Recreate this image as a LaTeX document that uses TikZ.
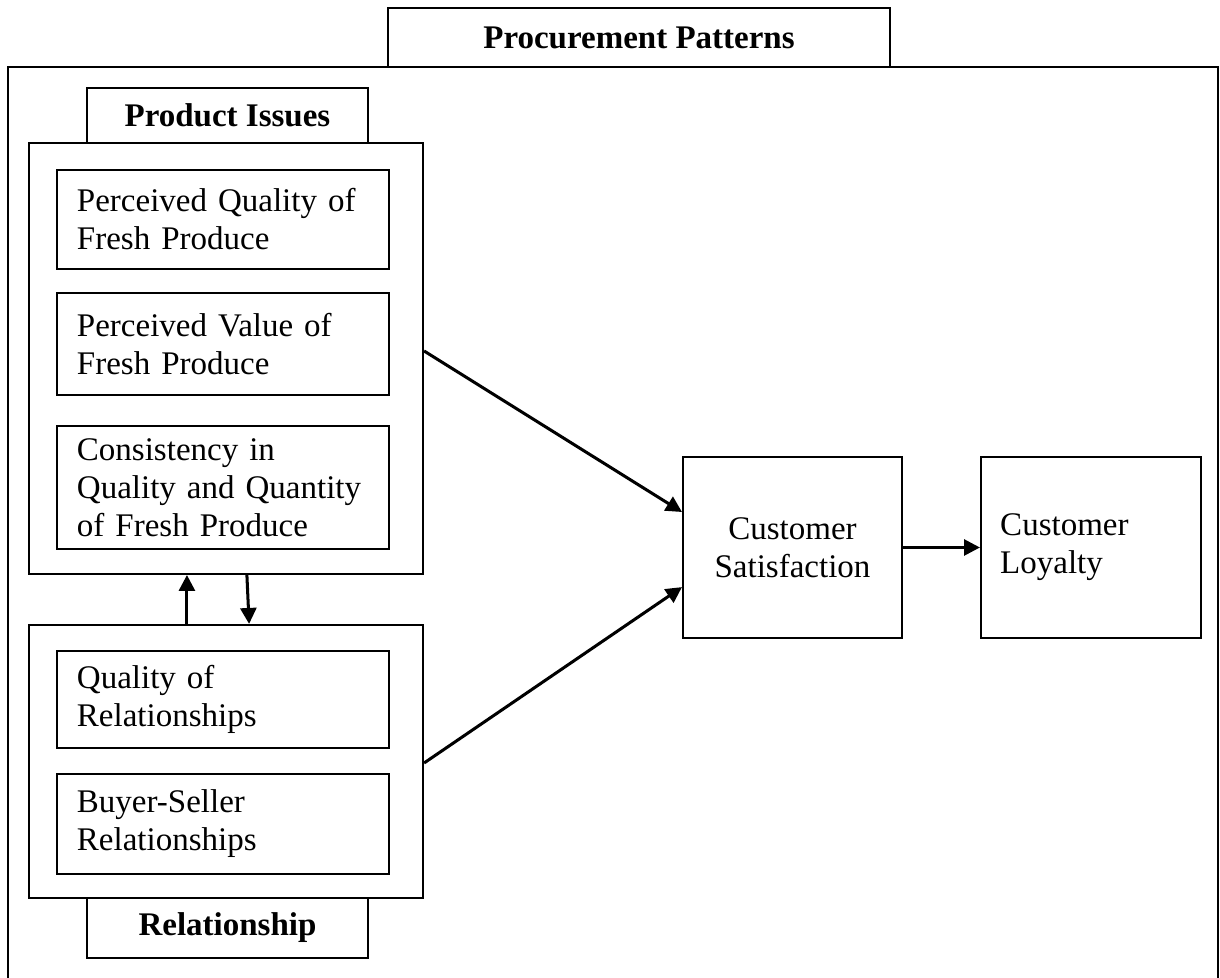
\documentclass[tikz,border=0pt]{standalone}
\usepackage{fontspec}
\setmainfont{Liberation Serif}
\usetikzlibrary{arrows.meta}
\begin{document}
\begin{tikzpicture}[x=0.3636pt,y=-0.3636pt,
  every node/.style={font=\fontsize{12}{13.8}\selectfont},
  frame/.style={draw, line width=0.75pt},
  box/.style={frame, rectangle, inner sep=0pt},
  leftbox/.style={box, align=left, text width=106.2pt, inner xsep=7.27pt, inner ysep=0pt},
  headbox/.style={box, font=\fontsize{12}{13.8}\selectfont\bfseries},
  arr/.style={line width=1.1pt, -{Triangle[length=5.8pt,width=5.8pt]}}]
\useasboundingbox (0,0) rectangle (1220,978);
% outer frame
\draw[line width=0.75pt] (8,990) -- (8,67) -- (1218,67) -- (1218,990);
\node[headbox, minimum width=182.5pt, minimum height=21.45pt] (proc) at (639,37.5) {Procurement Patterns};
% product issues
\node[headbox, minimum width=102.2pt, minimum height=20pt] (pitab) at (227.5,115.5) {Product Issues};
\node[box, minimum width=143.3pt, minimum height=156.7pt] (pi) at (226,358.5) {};
\node[leftbox, minimum height=36pt] (b1) at (223,219.5) {Perceived Quality of\\Fresh Produce};
\node[leftbox, minimum height=37.1pt] (b2) at (223,344) {Perceived Value of\\Fresh Produce};
\node[leftbox, minimum height=44.7pt] (b3) at (223,487.5) {Consistency in\\Quality and Quantity\\of Fresh Produce};
% relationship
\node[box, minimum width=143.3pt, minimum height=99.3pt] (rel) at (226,761.5) {};
\node[leftbox, minimum height=35.3pt] (b4) at (223,699.5) {Quality of\\Relationships};
\node[leftbox, minimum height=36.4pt] (b5) at (223,824) {Buyer-Seller\\Relationships};
\node[headbox, minimum width=102.2pt, minimum height=21.8pt] (reltab) at (227.5,928) {Relationship};
% outcomes
\node[box, align=center, minimum width=79.6pt, minimum height=65.8pt] (sat) at (792.5,547.5) {Customer\\Satisfaction};
\node[box, align=left, text width=66pt, inner xsep=7pt, minimum height=65.8pt] (loy) at (1091,547.5) {Customer\\Loyalty};
% connectors
\draw[arr] ([yshift=2.73pt]pi.east) -- ([yshift=12.9pt]sat.west);
\draw[arr] ([yshift=-0.55pt]rel.east) -- ([yshift=-14.4pt]sat.west);
\draw[arr] (sat) -- (loy);
\draw[arr] ([xshift=-14.2pt]rel.north) -- ([xshift=-14.2pt]pi.south);
\draw[arr] ([xshift=7.6pt]pi.south) -- ([xshift=8.4pt]rel.north);
\end{tikzpicture}
\end{document}
